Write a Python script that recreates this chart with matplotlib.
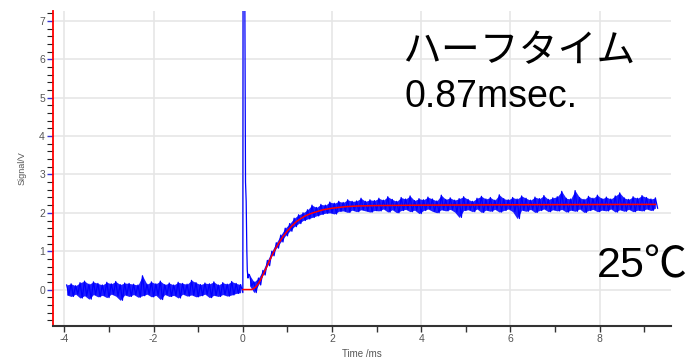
import numpy as np
import matplotlib
matplotlib.use("Agg")
import matplotlib.pyplot as plt
from matplotlib.ticker import MultipleLocator

plt.rcParams["axes.unicode_minus"] = False

# ---- recorded trace, stored as upper/lower excursions per 0.1 ms bin (V) ----
baseline_t0 = -3.95
baseline_hi = [0.12, 0.15, 0.10, 0.18, 0.22, 0.14, 0.20, 0.16, 0.12, 0.19,
               0.15, 0.21, 0.13, 0.17, 0.16, 0.14, 0.12, 0.36, 0.14, 0.20,
               0.15, 0.22, 0.13, 0.17, 0.12, 0.19, 0.16, 0.14, 0.24, 0.18,
               0.13, 0.17, 0.15, 0.20, 0.12, 0.18, 0.14, 0.21, 0.16, 0.13]
baseline_lo = [-0.14, -0.18, -0.12, -0.22, -0.16, -0.25, -0.13, -0.19, -0.15, -0.21,
               -0.12, -0.17, -0.28, -0.14, -0.18, -0.13, -0.20, -0.16, -0.12, -0.19,
               -0.15, -0.26, -0.13, -0.18, -0.15, -0.22, -0.12, -0.17, -0.14, -0.19,
               -0.16, -0.12, -0.21, -0.15, -0.18, -0.13, -0.17, -0.14, -0.10, -0.08]

# excitation artefact right at t = 0
spike_t = [0.005, 0.015, 0.045, 0.060, 0.075, 0.090, 0.100, 0.115, 0.130]
spike_v = [7.60, 7.60, 7.60, 2.80, 2.30, 1.00, 0.50, 0.30, 0.40]

rise_t0 = 0.15
rise_hi = [0.38, 0.20, 0.30, 0.50, 0.76, 1.00, 1.22, 1.42, 1.60, 1.72,
           1.86, 1.95, 2.00, 2.08, 2.20, 2.14, 2.22, 2.20, 2.28, 2.25,
           2.30, 2.27, 2.34, 2.30, 2.31, 2.38, 2.30, 2.34, 2.32]
rise_lo = [0.10, -0.08, 0.12, 0.38, 0.62, 0.88, 1.08, 1.24, 1.40, 1.52,
           1.64, 1.72, 1.80, 1.84, 1.88, 1.92, 1.96, 1.99, 2.00, 1.97,
           2.04, 2.05, 2.01, 2.07, 2.03, 2.08, 2.05, 2.02, 2.06]

plateau_t0 = 3.05
plateau_hi = [2.38, 2.33, 2.42, 2.35, 2.30, 2.40, 2.36, 2.44, 2.32, 2.37,
              2.34, 2.41, 2.36, 2.31, 2.46, 2.35, 2.39, 2.33, 2.37, 2.42,
              2.35, 2.30, 2.38, 2.43, 2.36, 2.40, 2.33, 2.47, 2.37, 2.34,
              2.40, 2.36, 2.44, 2.38, 2.33, 2.41, 2.37, 2.45, 2.35, 2.39,
              2.42, 2.56, 2.38, 2.36, 2.58, 2.40, 2.35, 2.43, 2.38, 2.46,
              2.37, 2.41, 2.36, 2.44, 2.52, 2.39, 2.35, 2.42, 2.38, 2.45,
              2.40, 2.36, 2.39]
plateau_lo = [2.05, 2.10, 2.02, 2.08, 2.00, 2.06, 2.09, 2.03, 2.07, 1.98,
              2.06, 2.10, 2.04, 2.00, 2.08, 2.05, 2.09, 2.02, 1.88, 2.06,
              2.08, 2.03, 2.10, 2.01, 2.07, 2.04, 2.09, 2.02, 2.06, 2.10,
              2.03, 1.85, 2.07, 2.04, 2.09, 2.01, 2.06, 2.10, 2.03, 2.08,
              2.05, 2.09, 2.02, 2.07, 2.04, 2.10, 2.01, 2.06, 2.09, 2.03,
              2.07, 2.05, 2.10, 2.02, 2.08, 2.04, 2.09, 2.03, 2.07, 2.05,
              2.10, 2.06, 2.12]

# ---- fitted response curve ----
fit_t = [0.0, 0.2, 0.25, 0.3, 0.35, 0.4, 0.5, 0.6, 0.7, 0.8, 0.9, 1.0, 1.1,
         1.2, 1.3, 1.4, 1.5, 1.6, 1.8, 2.0, 2.3, 2.6, 3.0, 4.0, 6.0, 9.25]
fit_v = [0.0, 0.0, 0.03, 0.08, 0.16, 0.26, 0.50, 0.76, 1.00, 1.20, 1.38, 1.53,
         1.66, 1.77, 1.85, 1.92, 1.97, 2.01, 2.08, 2.12, 2.16, 2.18, 2.19,
         2.20, 2.21, 2.22]

x_ticks = [-4, -2, 0, 2, 4, 6, 8]
y_ticks = [0, 1, 2, 3, 4, 5, 6, 7]

title_jp = "ハーフタイム"
half_time_text = "0.87msec."
temp_text = "25℃"

BLUE = "#0000ff"


def bins(t0, hi, step=0.1):
    return t0 + step * np.arange(len(hi))


def zigzag(t0, hi, lo, step=0.1):
    t = bins(t0, hi, step)
    tt = np.empty(2 * len(hi))
    vv = np.empty(2 * len(hi))
    tt[0::2], tt[1::2] = t, t + step / 2
    vv[0::2], vv[1::2] = hi, lo
    return tt, vv


parts = [zigzag(baseline_t0, baseline_hi, baseline_lo),
         (np.array(spike_t), np.array(spike_v)),
         zigzag(rise_t0, rise_hi, rise_lo),
         zigzag(plateau_t0, plateau_hi, plateau_lo)]
trace_t = np.concatenate([p[0] for p in parts])
trace_v = np.concatenate([p[1] for p in parts])

# noise bands: pre-trigger, and the continuous response after the artefact
band_pre = (bins(baseline_t0, baseline_hi), baseline_lo, baseline_hi)
band_post = (np.concatenate([bins(rise_t0, rise_hi), bins(plateau_t0, plateau_hi)]),
             rise_lo + plateau_lo, rise_hi + plateau_hi)

fig = plt.figure(figsize=(6.92, 3.60), dpi=100)
ax = fig.add_axes([0.077, 0.0944, 0.892, 0.875])

for t, lo, hi in (band_pre, band_post):
    ax.fill_between(t, lo, hi, color=BLUE, lw=0, alpha=0.88, zorder=3)
ax.plot(trace_t, trace_v, color=BLUE, lw=0.9, zorder=3)
ax.plot(fit_t, fit_v, color="#ff0000", lw=1.1, zorder=4)

ax.set_xlim(-4.25, 9.59)
ax.set_ylim(-0.95, 7.26)

ax.set_xticks(x_ticks)
ax.xaxis.set_minor_locator(MultipleLocator(1))
ax.set_yticks(y_ticks)
ax.yaxis.set_minor_locator(MultipleLocator(0.2))

ax.grid(True, which="major", color="#e6e6e6", lw=1.2, zorder=0)
ax.set_axisbelow(True)

for s in ("top", "right"):
    ax.spines[s].set_visible(False)
ax.spines["left"].set_color("#ff0000")
ax.spines["left"].set_linewidth(1.3)
ax.spines["bottom"].set_color("#333333")
ax.spines["bottom"].set_linewidth(1.5)

label_col = "#555555"
tick_font = "Liberation Sans"
ax.tick_params(axis="x", which="both", length=4, width=1, color="#333333",
               labelsize=7.5, labelcolor=label_col, pad=2)
ax.tick_params(axis="y", which="major", length=4, width=1, color="#3333cc",
               labelsize=7.5, labelcolor=label_col, pad=2)
ax.tick_params(axis="y", which="minor", length=4, width=0.8, color="#222222")
for lab in ax.get_xticklabels() + ax.get_yticklabels():
    lab.set_family(tick_font)

ax.set_xlabel("Time /ms", fontsize=7, color=label_col, labelpad=3,
              family=tick_font)
ax.set_ylabel("Signal/V", fontsize=6.5, color=label_col, family=tick_font)
ax.yaxis.set_label_coords(-0.043, 0.5)

jp = ["Noto Sans CJK JP", "DejaVu Sans"]
latin = ["Liberation Sans", "Noto Sans CJK JP"]
fig.text(402 / 692, 1 - 51 / 360, title_jp, family=jp, fontsize=28,
         ha="left", va="center", color="black")
fig.text(404 / 692, 1 - 97 / 360, half_time_text, family=latin, fontsize=27,
         ha="left", va="center", color="black")
fig.text(597 / 692, 1 - 266 / 360, temp_text, family=latin, fontsize=31,
         ha="left", va="center", color="black")

fig.savefig("out.png", dpi=100)
